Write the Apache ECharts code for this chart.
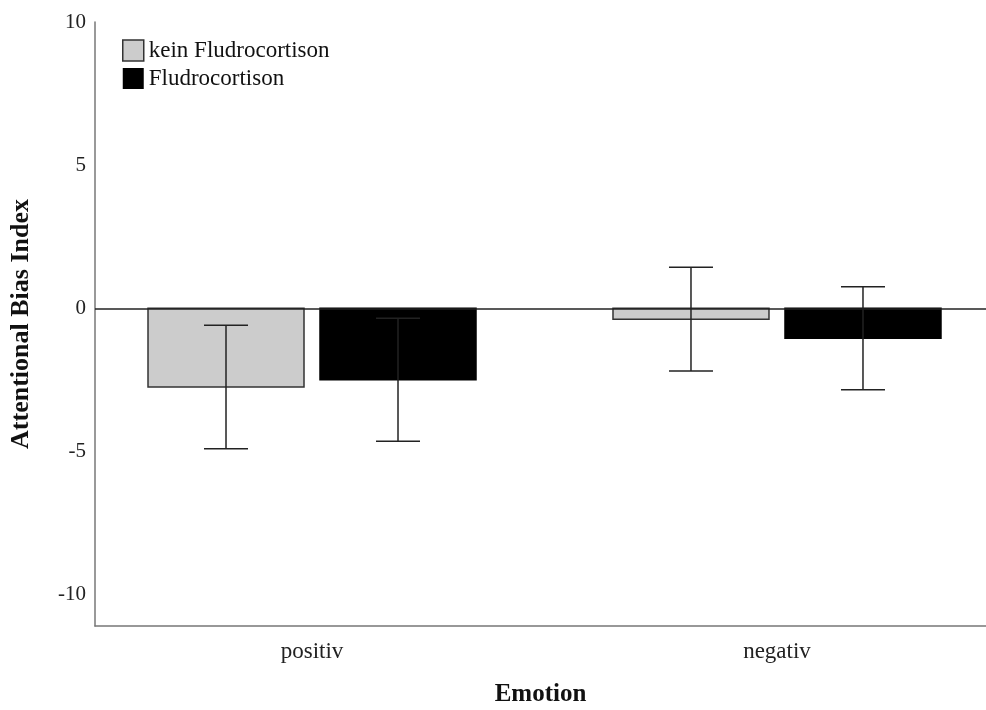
<!DOCTYPE html>
<html>
<head>
<meta charset="utf-8">
<script src="https://cdn.jsdelivr.net/npm/echarts@6/dist/echarts.min.js"></script>
<style>html,body{margin:0;padding:0;background:#fff;}#chart{width:986px;height:710px;}</style>
</head>
<body>
<div id="chart"></div>
<script>
const categories = ['positiv', 'negativ'];
const seriesNames = ['kein Fludrocortison', 'Fludrocortison'];
const meanKein = [-2.75, -0.38];
const errKein = [2.16, 1.81];
const meanFludro = [-2.50, -1.05];
const errFludro = [2.15, 1.80];
const yTicks = [-10, -5, 0, 5, 10];

const FONT = 'Liberation Serif';
const BAR_W = 156, BAR_OFF = 86, CAP = 22;

function makeRender(offset, fill, stroke) {
  return function (params, api) {
    const x = api.value(0), v = api.value(1), e = api.value(2);
    const base = api.coord([x, 0]);
    const end = api.coord([x, v]);
    const hi = api.coord([x, v + e]);
    const lo = api.coord([x, v - e]);
    const cx = base[0] + offset;
    return {
      type: 'group',
      children: [
        { type: 'rect', shape: { x: cx - BAR_W / 2, y: Math.min(base[1], end[1]), width: BAR_W, height: Math.abs(end[1] - base[1]) },
          style: { fill: fill, stroke: stroke, lineWidth: 1.5 } },
        { type: 'line', shape: { x1: cx, y1: hi[1], x2: cx, y2: lo[1] }, style: { stroke: '#222', lineWidth: 1.5 } },
        { type: 'line', shape: { x1: cx - CAP, y1: hi[1], x2: cx + CAP, y2: hi[1] }, style: { stroke: '#222', lineWidth: 1.5 } },
        { type: 'line', shape: { x1: cx - CAP, y1: lo[1], x2: cx + CAP, y2: lo[1] }, style: { stroke: '#222', lineWidth: 1.5 } }
      ]
    };
  };
}

const dataKein = categories.map((c, i) => [i, meanKein[i], errKein[i]]);
const dataFludro = categories.map((c, i) => [i, meanFludro[i], errFludro[i]]);

const chart = echarts.init(document.getElementById('chart'));
chart.setOption({
  animation: false,
  backgroundColor: '#fff',
  grid: { left: 95, right: 0, top: 22, bottom: 84, containLabel: false, outerBoundsMode: 'none' },
  legend: {
    orient: 'vertical', left: 117, top: 34, itemWidth: 21, itemHeight: 21, itemGap: 5,
    icon: 'rect',
    textStyle: { fontFamily: FONT, fontSize: 23, color: '#111' },
    data: [
      { name: seriesNames[0], itemStyle: { color: '#cccccc', borderColor: '#333', borderWidth: 1.5 } },
      { name: seriesNames[1], itemStyle: { color: '#000' } }
    ]
  },
  xAxis: {
    type: 'value', min: -0.4667, max: 1.4495,
    axisLine: { show: true, onZero: false, lineStyle: { color: '#777', width: 1.5 } },
    axisTick: { show: false },
    splitLine: { show: false },
    axisLabel: {
      customValues: [0, 1], margin: 14,
      formatter: v => categories[Math.round(v)],
      fontFamily: FONT, fontSize: 23, color: '#222'
    },
    name: 'Emotion', nameLocation: 'middle', nameGap: 56,
    nameTextStyle: { fontFamily: FONT, fontSize: 25, fontWeight: 'bold', color: '#111' }
  },
  yAxis: {
    type: 'value', min: -11.1, max: 10,
    axisLine: { show: true, onZero: false, lineStyle: { color: '#777', width: 1.5 } },
    axisTick: { show: false },
    splitLine: { show: false },
    axisLabel: { customValues: yTicks, margin: 9, fontFamily: FONT, fontSize: 21, color: '#222' },
    name: 'Attentional Bias Index', nameLocation: 'middle', nameGap: 61,
    nameTextStyle: { fontFamily: FONT, fontSize: 26, fontWeight: 'bold', color: '#111' }
  },
  series: [
    { name: seriesNames[0], type: 'custom', data: dataKein, encode: { x: 0, y: 1 },
      itemStyle: { color: '#cccccc' }, renderItem: makeRender(-BAR_OFF, '#cccccc', '#333'),
      markLine: { silent: true, symbol: 'none', label: { show: false },
        lineStyle: { color: '#222', width: 1.5, type: 'solid' }, data: [{ yAxis: 0 }] } },
    { name: seriesNames[1], type: 'custom', data: dataFludro, encode: { x: 0, y: 1 },
      itemStyle: { color: '#000' }, renderItem: makeRender(BAR_OFF, '#000', '#000') }
  ]
});
</script>
</body>
</html>
